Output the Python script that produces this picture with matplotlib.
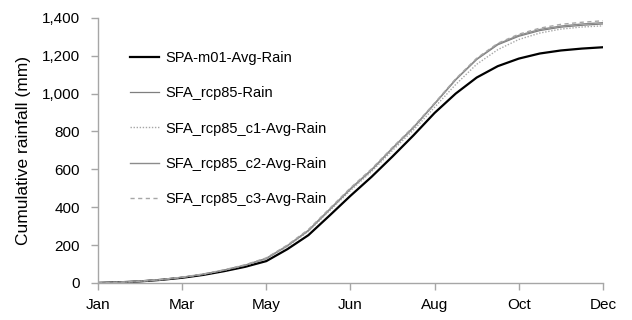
import matplotlib
matplotlib.use("Agg")
import matplotlib.pyplot as plt
from matplotlib.ticker import FuncFormatter, FixedLocator

plt.rcParams['font.family'] = ['Liberation Sans', 'DejaVu Sans']

days = [0, 15, 30, 45, 60, 75, 90, 105, 120, 135, 150, 165, 180, 195, 210,
        225, 240, 255, 270, 285, 300, 315, 330, 345, 360]

spa_m01 = [0, 3, 8, 16, 27, 42, 62, 85, 115, 178, 252, 355, 460, 560, 668,
           780, 898, 1000, 1085, 1145, 1185, 1212, 1228, 1238, 1245]
rcp85 = [0, 3, 9, 17, 29, 45, 67, 93, 128, 195, 275, 385, 495, 595, 710,
         820, 945, 1072, 1180, 1258, 1303, 1333, 1351, 1361, 1368]
rcp85_c1 = [0, 3, 9, 17, 29, 45, 67, 93, 127, 192, 272, 380, 488, 588, 700,
            808, 928, 1048, 1155, 1232, 1286, 1320, 1341, 1352, 1358]
rcp85_c2 = [0, 3, 9, 17, 30, 46, 68, 94, 130, 197, 278, 388, 498, 598, 713,
            823, 948, 1075, 1183, 1262, 1308, 1339, 1357, 1368, 1375]
rcp85_c3 = [0, 3, 9, 18, 30, 47, 69, 96, 132, 200, 282, 392, 502, 602, 716,
            826, 950, 1078, 1187, 1266, 1314, 1346, 1366, 1377, 1385]

series_names = ["SPA-m01-Avg-Rain", "SFA_rcp85-Rain", "SFA_rcp85_c1-Avg-Rain",
                "SFA_rcp85_c2-Avg-Rain", "SFA_rcp85_c3-Avg-Rain"]

tick_days = [0, 60, 120, 180, 240, 300, 360]
tick_labels = ["Jan", "Mar", "May", "Jun", "Aug", "Oct", "Dec"]
y_ticks = [0, 200, 400, 600, 800, 1000, 1200, 1400]

fig = plt.figure(figsize=(6.32, 3.2), dpi=100)
ax = fig.add_axes([0.155, 0.116, 0.799, 0.828])

ax.plot(days, spa_m01, color="black", lw=1.6, label=series_names[0])
ax.plot(days, rcp85, color="#7f7f7f", lw=0.9, label=series_names[1])
ax.plot(days, rcp85_c1, color="#a6a6a6", lw=1.0, ls=(0, (1, 1.2)), label=series_names[2])
ax.plot(days, rcp85_c2, color="#8c8c8c", lw=1.0, label=series_names[3])
ax.plot(days, rcp85_c3, color="#a6a6a6", lw=1.0, ls=(0, (3, 2.5)), label=series_names[4])

ax.set_xlim(0, 360)
ax.set_ylim(0, 1400)
ax.xaxis.set_major_locator(FixedLocator(tick_days))
ax.set_xticklabels(tick_labels)
ax.yaxis.set_major_locator(FixedLocator(y_ticks))
ax.yaxis.set_major_formatter(FuncFormatter(lambda v, p: f"{int(v):,}"))

for s in ["top", "right"]:
    ax.spines[s].set_visible(False)
for s in ["left", "bottom"]:
    ax.spines[s].set_color("#a6a6a6")
    ax.spines[s].set_linewidth(1.0)
ax.tick_params(axis="both", direction="out", length=5, color="#a6a6a6",
               width=1.0, labelsize=11, labelcolor="black", pad=4)
ax.tick_params(axis="y", pad=8)
ax.tick_params(axis="x", pad=6)

ax.set_ylabel("Cumulative rainfall (mm)", fontsize=12.5, labelpad=8)

leg = ax.legend(loc="upper left", bbox_to_anchor=(0.038, 0.926), frameon=False,
                fontsize=10.5, handlelength=2.0, handletextpad=0.4,
                labelspacing=1.47)

fig.savefig("out.png", dpi=100)
